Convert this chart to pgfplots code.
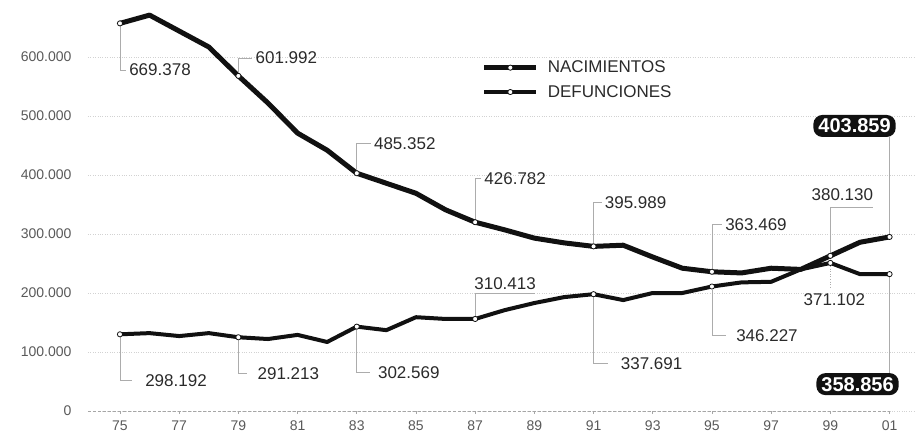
\documentclass[border=0pt]{standalone}
\usepackage{pgfplots}
\pgfplotsset{compat=1.18}
\usepackage{fontspec}
\setmainfont{Liberation Sans}
\definecolor{ink}{HTML}{111111}
\definecolor{lbl}{HTML}{2A2A2A}
\newcommand\lblfont{\fontsize{17}{20}\selectfont}
\tikzset{
  callout/.style={draw=gray!65, line width=0.6pt},
  lab/.style={anchor=west, inner sep=3pt, font=\lblfont, text=lbl},
  box/.style={fill=ink, text=white, rounded corners=9pt, font=\bfseries\fontsize{20}{22}\selectfont,
    inner xsep=5pt, inner ysep=4pt, text height=14pt, text depth=0pt},
}
\begin{document}
\begin{tikzpicture}
\path[use as bounding box] (-88pt,-21pt) rectangle (827pt,411pt);
\begin{axis}[
  at={(0pt,0pt)}, anchor=south west,
  scale only axis, width=827pt, height=354pt,
  xmin=73.92, xmax=101.86, ymin=0, ymax=600000,
  clip=false, scaled y ticks=false,
  axis line style={draw=none},
  xtick={75,77,...,101},
  xticklabels={75,77,79,81,83,85,87,89,91,93,95,97,99,01},
  ytick={0,100000,...,600000},
  yticklabels={0,100.000,200.000,300.000,400.000,500.000,600.000},
  ymajorgrids, grid style={gray!35, dotted, line width=0.7pt},
  tick pos=left, tick align=outside, major tick length=3pt,
  ytick style={draw=none}, xtick style={draw=gray!70, line width=0.6pt},
  tick label style={text=gray!70!black, font=\fontsize{14}{16}\selectfont},
  yticklabel style={xshift=-10pt},
  xticklabel style={yshift=-3pt},
  legend style={at={(axis description cs:0.476,0.995)}, anchor=north west, draw=none, fill=none,
    inner sep=0pt, row sep=7pt, font=\lblfont, text=lbl, cells={anchor=west},
    /tikz/every odd column/.append style={column sep=7pt}},
  legend image code/.code={\draw[#1, mark indices={2}] plot coordinates {(0pt,0pt) (26pt,0pt) (52pt,0pt)};},
]
\draw[densely dashed, gray!70, line width=0.8pt] (axis cs:73.92,0) -- (axis cs:101,0);

\addplot[ink, line width=5pt, line join=round, mark=*, mark size=2.6pt,
  mark options={fill=white, draw=ink, line width=0.8pt, solid},
  mark indices={1,5,9,13,17,21,25,27}] coordinates {
(75,657000) (76,671000) (77,644000) (78,617000) (79,568000) (80,522000)
(81,471000) (82,442000) (83,403000) (84,386000) (85,369000) (86,341000)
(87,320000) (88,307000) (89,293000) (90,285000) (91,279000) (92,281000)
(93,261000) (94,242000) (95,236000) (96,234000) (97,242000) (98,240000)
(99,263000) (100,286000) (101,295000)};
\addlegendentry{NACIMIENTOS}

\addplot[ink, line width=4pt, line join=round, mark=*, mark size=2.6pt,
  mark options={fill=white, draw=ink, line width=0.8pt, solid},
  mark indices={1,5,9,13,17,21,25,27}] coordinates {
(75,130000) (76,132000) (77,127000) (78,132000) (79,125000) (80,122000)
(81,129000) (82,117000) (83,143000) (84,137000) (85,159000) (86,156000)
(87,156000) (88,171000) (89,183000) (90,193000) (91,198000) (92,188000)
(93,200000) (94,200000) (95,211000) (96,218000) (97,219000) (98,240000)
(99,251000) (100,232000) (101,232000)};
\addlegendentry{DEFUNCIONES}

% nacimientos callouts
\draw[callout] ([yshift=-3pt]axis cs:75,657000) -- ([yshift=-46.6pt]axis cs:75,657000) -- ([xshift=6pt,yshift=-46.6pt]axis cs:75,657000) node[lab]{669.378};
\draw[callout] ([yshift=3pt]axis cs:79,568000) -- ([yshift=18pt]axis cs:79,568000) -- ([xshift=14pt,yshift=18pt]axis cs:79,568000) node[lab]{601.992};
\draw[callout] ([yshift=3pt]axis cs:83,403000) -- ([yshift=30pt]axis cs:83,403000) -- ([xshift=14pt,yshift=30pt]axis cs:83,403000) node[lab]{485.352};
\draw[callout] ([yshift=3pt]axis cs:87,320000) -- ([yshift=44pt]axis cs:87,320000) -- ([xshift=6pt,yshift=44pt]axis cs:87,320000) node[lab]{426.782};
\draw[callout] ([yshift=3pt]axis cs:91,279000) -- ([yshift=44pt]axis cs:91,279000) -- ([xshift=8pt,yshift=44pt]axis cs:91,279000) node[lab]{395.989};
\draw[callout] ([yshift=3pt]axis cs:95,236000) -- ([yshift=47pt]axis cs:95,236000) -- ([xshift=10pt,yshift=47pt]axis cs:95,236000) node[lab]{363.469};
\draw[callout] ([yshift=3pt]axis cs:99,263000) -- ([yshift=49pt]axis cs:99,263000) -- ([xshift=43pt,yshift=49pt]axis cs:99,263000);
\node[lab, anchor=base] at ([xshift=12pt, yshift=55pt]axis cs:99,263000) {380.130};
\draw[callout] ([yshift=3pt]axis cs:101,295000) -- ([yshift=100pt]axis cs:101,295000);
\node[box] at ([xshift=-35pt, yshift=111pt]axis cs:101,295000) {403.859};

% defunciones callouts
\draw[callout] ([yshift=-3pt]axis cs:75,130000) -- ([yshift=-46pt]axis cs:75,130000) -- ([xshift=12pt,yshift=-46pt]axis cs:75,130000) node[lab, xshift=10pt]{298.192};
\draw[callout] ([yshift=-3pt]axis cs:79,125000) -- ([yshift=-36pt]axis cs:79,125000) -- ([xshift=9pt,yshift=-36pt]axis cs:79,125000) node[lab, xshift=7pt]{291.213};
\draw[callout] ([yshift=-3pt]axis cs:83,143000) -- ([yshift=-46pt]axis cs:83,143000) -- ([xshift=13pt,yshift=-46pt]axis cs:83,143000) node[lab, xshift=5pt]{302.569};
\draw[callout] ([yshift=3pt]axis cs:87,156000) -- ([yshift=26pt]axis cs:87,156000) -- ([xshift=60pt,yshift=26pt]axis cs:87,156000);
\node[lab, anchor=base west] at ([xshift=-4pt, yshift=29.5pt]axis cs:87,156000) {310.413};
\draw[callout] ([yshift=-3pt]axis cs:91,198000) -- ([yshift=-69pt]axis cs:91,198000) -- ([xshift=14pt,yshift=-69pt]axis cs:91,198000) node[lab, xshift=10pt]{337.691};
\draw[callout] ([yshift=-3pt]axis cs:95,211000) -- ([yshift=-49pt]axis cs:95,211000) -- ([xshift=14pt,yshift=-49pt]axis cs:95,211000) node[lab, xshift=7pt]{346.227};
\draw[callout, dotted] ([yshift=-3pt]axis cs:99,251000) -- ([yshift=-24pt]axis cs:99,251000);
\node[lab, anchor=center] at ([xshift=4pt, yshift=-37pt]axis cs:99,251000) {371.102};
\draw[callout] ([yshift=-3pt]axis cs:101,232000) -- ([yshift=-101pt]axis cs:101,232000);
\node[box] at ([xshift=-32pt, yshift=-110pt]axis cs:101,232000) {358.856};
\end{axis}
\end{tikzpicture}
\end{document}
